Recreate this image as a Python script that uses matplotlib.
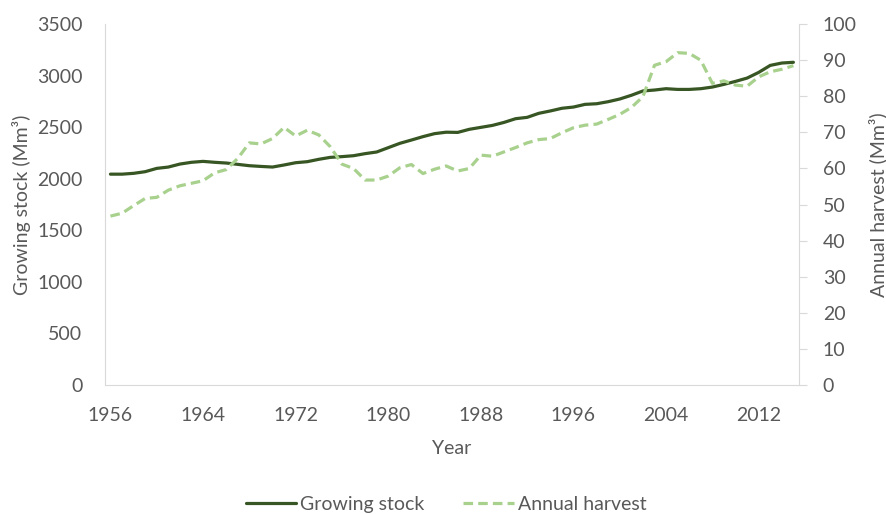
import matplotlib.pyplot as plt

plt.rcParams.update({
    'font.family': ['Lato', 'DejaVu Sans'],
    'font.size': 14,
    'text.color': '#595959',
    'axes.labelcolor': '#595959',
    'xtick.color': '#595959',
    'ytick.color': '#595959',
})

years = list(range(1956, 2016))

growing_stock = [
    2045, 2045, 2053, 2069, 2101, 2114, 2143, 2160, 2169, 2160,
    2153, 2140, 2127, 2120, 2114, 2134, 2156, 2166, 2189, 2208,
    2215, 2224, 2244, 2260, 2302, 2344, 2376, 2409, 2438, 2452,
    2450, 2480, 2499, 2518, 2547, 2583, 2596, 2635, 2658, 2684,
    2696, 2722, 2728, 2748, 2774, 2810, 2852, 2861, 2874, 2867,
    2867, 2874, 2890, 2916, 2945, 2977, 3032, 3100, 3123, 3130,
]

annual_harvest = [
    46.8, 47.6, 49.7, 51.7, 52.0, 54.0, 55.2, 55.9, 56.6, 58.8,
    59.7, 62.8, 67.1, 66.8, 68.3, 71.4, 69.0, 70.6, 69.3, 66.0,
    61.2, 60.0, 56.8, 56.8, 57.9, 60.2, 61.1, 58.6, 59.8, 60.7,
    59.3, 60.0, 63.7, 63.4, 64.6, 65.8, 67.1, 68.0, 68.3, 69.9,
    71.3, 72.0, 72.3, 73.6, 75.0, 76.9, 79.9, 88.6, 89.6, 92.1,
    91.9, 90.0, 83.6, 84.3, 83.1, 82.8, 85.4, 86.8, 87.5, 88.5,
]

x_ticks = list(range(1956, 2016, 8))

fig = plt.figure(figsize=(8.87, 5.14), dpi=100)
ax = fig.add_axes([0.118, 0.251, 0.783, 0.702])
ax2 = ax.twinx()

ln1, = ax.plot(years, growing_stock, color='#375623', linewidth=2.3,
               label='Growing stock', solid_capstyle='round')
ln2, = ax2.plot(years, annual_harvest, color='#A9D18E', linewidth=2.3,
                linestyle=(0, (3, 1.6)), label='Annual harvest')

ax.set_xlim(1955.5, 2015.5)
ax.set_ylim(0, 3500)
ax.set_yticks(range(0, 3501, 500))
ax2.set_ylim(0, 100)
ax2.set_yticks(range(0, 101, 10))
ax.set_xticks(x_ticks)

for s in ['top', 'right']:
    ax.spines[s].set_visible(False)
ax.spines['left'].set_color('#D9D9D9')
ax.spines['bottom'].set_color('#D9D9D9')
ax2.spines['top'].set_visible(False)
ax2.spines['left'].set_visible(False)
ax2.spines['bottom'].set_visible(False)
ax2.spines['right'].set_color('#D9D9D9')

ax.tick_params(axis='x', length=0, pad=15.5)
ax.tick_params(axis='y', length=0, pad=16)
ax2.tick_params(axis='y', length=6, color='#D9D9D9', pad=11)

ax.set_xlabel('Year', labelpad=12)
ax.set_ylabel('Growing stock (Mm³)', labelpad=4)
ax2.set_ylabel('Annual harvest (Mm³)', labelpad=8)

fig.legend(handles=[ln1, ln2], loc='center', bbox_to_anchor=(0.503, 0.018),
           ncol=2, frameon=False, handlelength=2.6, handletextpad=0.2,
           columnspacing=2.0)

fig.savefig('out.png', dpi=100)
